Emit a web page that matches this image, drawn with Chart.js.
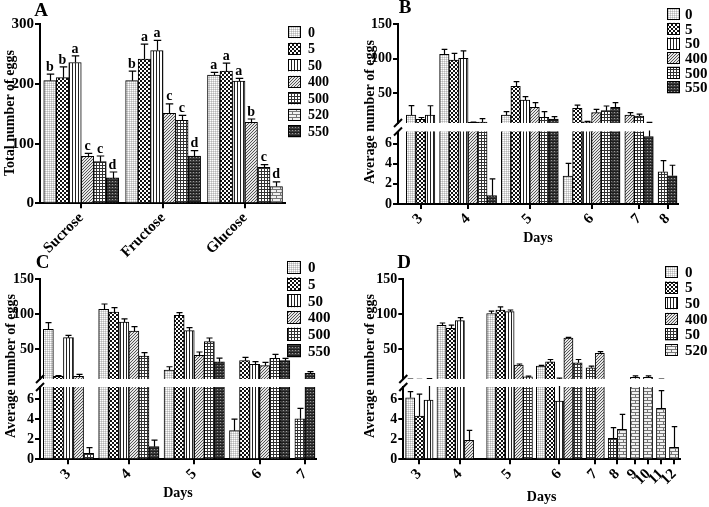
<!DOCTYPE html>
<html><head><meta charset="utf-8">
<script src="https://cdn.jsdelivr.net/npm/chart.js@4.4.0/dist/chart.umd.min.js"></script>
<style>
html,body{margin:0;padding:0;background:#fff;}
#wrap{position:relative;width:709px;height:507px;overflow:hidden;background:#fff;}
canvas{position:absolute;}
</style>
</head><body>
<div id="wrap">
<canvas id="cA" width="355" height="262" style="left:0;top:0"></canvas>
<canvas id="cBt" width="354" height="250" style="left:355px;top:0"></canvas>
<canvas id="cBb" width="354" height="250" style="left:355px;top:0"></canvas>
<canvas id="cCt" width="355" height="257" style="left:0;top:250px"></canvas>
<canvas id="cCb" width="355" height="257" style="left:0;top:250px"></canvas>
<canvas id="cDt" width="354" height="257" style="left:355px;top:250px"></canvas>
<canvas id="cDb" width="354" height="257" style="left:355px;top:250px"></canvas>
</div>
<script>
// ---------------- DATA ----------------
// Panel A: total number of eggs per sugar
const sugars = ['Sucrose', 'Fructose', 'Glucose'];
const seriesA = ['0', '5', '50', '400', '500', '520', '550'];
const valuesA = [
  [205.6, 205.6, 215],
  [210.6, 241.9, 221.8],
  [236, 255.9, 205],
  [78.8, 150.8, 135.8],
  [69.8, 139, 60.3],
  [null, null, 28],
  [42.5, 79.3, null]
];
const errorsA = [
  [11, 16, 4.5],
  [18, 25, 13],
  [11, 17, 4.5],
  [5, 16, 5.5],
  [9.5, 8.5, 4.5],
  [null, null, 8],
  [10, 9, null]
];
const lettersA = [
  ['b', 'b', 'a'],
  ['b', 'a', 'a'],
  ['a', 'a', 'a'],
  ['c', 'c', 'b'],
  ['c', 'c', 'c'],
  [null, null, 'd'],
  ['d', 'd', null]
];
const ticksA = [0, 100, 200, 300];

// Panel B
const daysB = ['3', '4', '5', '6', '7', '8'];
const seriesB = ['0', '5', '50', '400', '500', '550'];
const valuesB = [
  [18.6, 106.5, 18.6, 2.78, null, null],
  [12.3, 98.3, 60, 28.3, null, null],
  [18.6, 100.7, 40.3, 8.8, null, null],
  [null, 8, 29.7, 22, 18.6, null],
  [null, 8.5, 15.2, 24.9, 17.1, 3.2],
  [null, 0.83, 12.8, 29.7, 6.7, 2.8]
];
const errorsB = [
  [13.5, 7.3, 4.8, 1.26, null, null],
  [2.7, 9.7, 7, 4.7, null, null],
  [13.4, 10.7, 4.9, 0.5, null, null],
  [null, 0.3, 6.8, 4.8, 3.4, null],
  [null, 4.8, 8.2, 6.7, 2.9, 1.1],
  [null, 1.67, 3.4, 6.8, 1.3, 1.05]
];

// Panel C
const daysC = ['3', '4', '5', '6', '7'];
const seriesC = ['0', '5', '50', '400', '500', '550'];
const valuesC = [
  [78.2, 106.9, 19.9, 2.85, null],
  [11, 103.1, 98.3, 33.3, null],
  [66.3, 88.8, 76.3, 28, null],
  [11, 75.8, 40.9, 26.1, null],
  [0.6, 40, 60.5, 36.6, 4.04],
  [null, 1.26, 31.8, 33.3, 15.1]
];
const errorsC = [
  [9.6, 7.7, 4.7, 1.15, null],
  [1, 6.2, 3.9, 4.7, null],
  [3.3, 4.3, 4.3, 3.8, null],
  [2.5, 6.2, 4.8, 4.8, null],
  [0.56, 4.7, 5.3, 5.7, 1.03],
  [null, 0.64, 5.2, 3.3, 2.4]
];

// Panel D
const daysD = ['3', '4', '5', '6', '7', '8', '9', '10', '11', '12'];
const seriesD = ['0', '5', '50', '400', '50', '520'];
const valuesD = [
  [6.13, 84, 101, 25.6, null, null, null, null, null, null],
  [4.3, 79.7, 106, 31.8, null, null, null, null, null, null],
  [5.9, 90.7, 103.6, 5.8, null, null, null, null, null, null],
  [null, 1.89, 27, 65.6, 43.8, null, null, null, null, null],
  [null, 0, 10, 30.3, 23.2, 2.09, null, null, null, null],
  [null, null, null, null, null, 2.98, 9.4, 9.4, 5.07, 1.19]
];
const errorsD = [
  [0.6, 3.3, 3.4, 1, null, null, null, null, null, null],
  [2.2, 4.7, 4.5, 3.2, null, null, null, null, null, null],
  [1.6, 4.3, 2.4, 2.5, null, null, null, null, null, null],
  [null, 1.0, 1.5, 1, 2.4, null, null, null, null, null],
  [null, 0, 1, 4.7, 2.4, 1.06, null, null, null, null],
  [null, null, null, null, null, 1.49, 2, 2, 1.76, 2.06]
];
const orderD = {4: [4, 3]};   // day 7: series drawn in this order

const upperTicks = [50, 100, 150];
const lowerTicks = [0, 2, 4, 6];

// ---------------- STYLE ----------------
const SERIF = "'Liberation Serif','Times New Roman',serif";
Chart.defaults.font.family = SERIF;
Chart.defaults.font.weight = 'bold';
Chart.defaults.color = '#000';

function mk(w, h, fn) {
  const c = document.createElement('canvas'); c.width = w; c.height = h;
  const g = c.getContext('2d'); fn(g); return g.createPattern(c, 'repeat');
}
const PAT = {
  dots: mk(2, 2, g => { g.fillStyle = '#d6d6d6'; g.fillRect(0, 0, 2, 2); g.fillStyle = '#fff'; g.fillRect(0, 0, 1, 1); g.fillStyle = '#b5b5b5'; g.fillRect(1, 1, 1, 1); }),
  checker: mk(4, 4, g => { g.fillStyle = '#fff'; g.fillRect(0, 0, 4, 4); g.fillStyle = '#111'; g.fillRect(0, 0, 2, 2); g.fillRect(2, 2, 2, 2); }),
  vlines: mk(3, 1, g => { g.fillStyle = '#fff'; g.fillRect(0, 0, 3, 1); g.fillStyle = '#222'; g.fillRect(0, 0, 1, 1); }),
  diag: mk(3, 3, g => { g.fillStyle = '#e6e6e6'; g.fillRect(0, 0, 3, 3); g.fillStyle = '#555'; g.fillRect(0, 2, 1, 1); g.fillRect(1, 1, 1, 1); g.fillRect(2, 0, 1, 1); }),
  grid: mk(3, 3, g => { g.fillStyle = '#fff'; g.fillRect(0, 0, 3, 3); g.fillStyle = '#333'; g.fillRect(0, 0, 3, 1); g.fillRect(0, 0, 1, 3); }),
  brick: mk(8, 6, g => { g.fillStyle = '#f2f2f2'; g.fillRect(0, 0, 8, 6); g.fillStyle = '#777'; g.fillRect(0, 0, 8, 1); g.fillRect(0, 3, 8, 1); g.fillRect(0, 1, 1, 2); g.fillRect(4, 4, 1, 2); }),
  dark: mk(3, 3, g => { g.fillStyle = '#3c3c3c'; g.fillRect(0, 0, 3, 3); g.fillStyle = '#9a9a9a'; g.fillRect(1, 1, 1, 1); g.fillStyle = '#1e1e1e'; g.fillRect(0, 0, 3, 1); })
};

// ---------------- PLUGINS ----------------
const errPlugin = {
  id: 'errbars',
  afterDatasetsDraw(chart, args, o) {
    const {ctx, chartArea: a} = chart; const ys = chart.scales.y;
    const marks = [];
    ctx.save();
    ctx.beginPath(); ctx.rect(a.left, a.top - 1, a.right - a.left, a.bottom - a.top + 1); ctx.clip();
    ctx.strokeStyle = '#000'; ctx.lineWidth = 1.2;
    chart.data.datasets.forEach((ds, di) => {
      const meta = chart.getDatasetMeta(di);
      meta.data.forEach((el, j) => {
        const r = ds.data[j];
        const yt = ys.getPixelForValue(r.y), ye = ys.getPixelForValue(r.y + (r.err || 0));
        if (r.letter) marks.push({x: el.x, y: ye, t: r.letter});
        if (!r.err) return;
        const half = el.width * 0.3, x = Math.round(el.x) + 0.5;
        ctx.beginPath(); ctx.moveTo(x, yt); ctx.lineTo(x, ye);
        ctx.moveTo(x - half, ye); ctx.lineTo(x + half, ye); ctx.stroke();
      });
    });
    ctx.restore();
    if (o && o.letterFont) {
      ctx.save(); ctx.font = o.letterFont; ctx.fillStyle = '#000';
      ctx.textAlign = 'center'; ctx.textBaseline = 'bottom';
      marks.forEach(m => ctx.fillText(m.t, m.x, m.y));
      ctx.restore();
    }
  }
};
const textPlugin = {
  id: 'texts',
  afterDraw(chart, args, o) {
    const ctx = chart.ctx;
    ((o && o.items) || []).forEach(t => {
      ctx.save(); ctx.translate(t.x, t.y); ctx.rotate((t.rot || 0) * Math.PI / 180);
      ctx.font = t.font; ctx.fillStyle = '#000'; ctx.textAlign = 'center'; ctx.textBaseline = 'middle';
      ctx.fillText(t.text, 0, 0); ctx.restore();
    });
  }
};
const legendPlugin = {
  id: 'patLegend',
  afterDraw(chart, args, o) {
    if (!o || !o.labels) return;
    const ctx = chart.ctx; ctx.save();
    o.labels.forEach((lab, i) => {
      const cy = o.y + i * o.step;
      ctx.fillStyle = PAT[o.patterns[i]];
      ctx.fillRect(o.x, cy - o.bh / 2, o.bw, o.bh);
      ctx.strokeStyle = '#000'; ctx.lineWidth = 1;
      ctx.strokeRect(o.x + 0.5, Math.round(cy - o.bh / 2) + 0.5, o.bw - 1, o.bh - 1);
      ctx.fillStyle = '#000'; ctx.font = o.font; ctx.textAlign = 'left'; ctx.textBaseline = 'middle';
      ctx.fillText(lab, o.tx, cy + 1);
    });
    ctx.restore();
  }
};
const brkPlugin = {
  id: 'brk',
  afterDraw(chart, args, o) {
    if (!o || !o.edge) return;
    const {ctx, chartArea: a} = chart;
    const yy = o.edge === 'top' ? a.top : a.bottom;
    ctx.save(); ctx.strokeStyle = '#000'; ctx.lineWidth = 2;
    ctx.beginPath(); ctx.moveTo(a.left - 4, yy + 4); ctx.lineTo(a.left + 4, yy - 4); ctx.stroke();
    ctx.restore();
  }
};

// ---------------- LAYOUT (bar slots derived from data) ----------------
function slots(values, lead, gap, trail, order) {
  const nG = values[0].length, pos = values.map(() => []), centers = [];
  let x = lead;
  for (let g = 0; g < nG; g++) {
    const ord = (order && order[g]) ? order[g] : values.map((v, i) => i).filter(i => values[i][g] !== null);
    const start = x;
    ord.forEach(i => { pos[i][g] = x + 0.5; x += 1; });
    centers.push((start + x) / 2);
    x += gap;
  }
  return {pos, centers, max: x - gap + trail};
}

function datasetsFor(p, L) {
  return p.series.map((name, i) => ({
    label: name,
    data: p.values[i].map((v, g) => (v === null || v === 0) ? null :
      {x: L.pos[i][g], y: v, err: p.errors[i][g], letter: p.letters ? p.letters[i][g] : null}).filter(d => d),
    backgroundColor: PAT[p.patterns[i]], borderColor: '#000', borderWidth: 1,
    grouped: false, categoryPercentage: 1, barPercentage: 1
  }));
}

function axisChart(id, p, L, part) {
  const cv = document.getElementById(id); const W = cv.width, H = cv.height;
  const showX = !!part.showX;
  return new Chart(cv, {
    type: 'bar',
    data: {datasets: datasetsFor(p, L)},
    options: {
      responsive: false, animation: false, devicePixelRatio: 1,
      layout: {padding: {left: 0, right: W - p.right, top: part.top, bottom: showX ? 0 : H - part.bottom}},
      plugins: {
        legend: {display: false}, tooltip: {enabled: false},
        errbars: {letterFont: p.letters ? 'bold 14px ' + SERIF : null},
        texts: {items: part.texts || []},
        patLegend: part.legend || {},
        brk: {edge: part.brk}
      },
      scales: {
        x: {
          type: 'linear', min: 0, max: L.max, display: showX, offset: false,
          afterFit: s => { if (showX) s.height = H - part.bottom; },
          afterBuildTicks: s => { s.ticks = L.centers.map(v => ({value: v})); },
          ticks: {autoSkip: false, minRotation: 45, maxRotation: 45, padding: 1,
                  font: {size: p.xFont, weight: 'bold'}, color: '#000', callback: (v, i) => p.groups[i]},
          grid: {offset: false, drawOnChartArea: false, tickLength: 5, lineWidth: 2, color: '#000'},
          border: {color: '#000', width: 2},
          title: {display: !!p.xTitle, text: p.xTitle, color: '#000', font: {size: 14, weight: 'bold'},
                  padding: {top: 0, bottom: p.xTitlePad || 0}}
        },
        y: {
          type: 'linear', min: part.min, max: part.max,
          afterFit: s => { s.width = p.left; },
          afterBuildTicks: s => { s.ticks = part.ticks.map(v => ({value: v})); },
          ticks: {padding: 1, font: {size: p.yFont, weight: 'bold'}, color: '#000'},
          grid: {drawOnChartArea: false, tickLength: 5, lineWidth: 2, color: '#000'},
          border: {color: '#000', width: 2}
        }
      }
    },
    plugins: [errPlugin, textPlugin, legendPlugin, brkPlugin]
  });
}

// ---------------- PANELS ----------------
const F = s => 'bold ' + s + 'px ' + SERIF;

// A
const pA = {series: seriesA, groups: sugars, values: valuesA, errors: errorsA, letters: lettersA,
  patterns: ['dots', 'checker', 'vlines', 'diag', 'grid', 'brick', 'dark'],
  left: 40, right: 285, xFont: 15, yFont: 15};
const LA = slots(valuesA, 0.3, 0.55, 0.2);
axisChart('cA', pA, LA, {top: 24.3, bottom: 203.3, min: 0, max: 300, ticks: ticksA, showX: true,
  texts: [{text: 'A', x: 41, y: 11, font: F(19)}, {text: 'Total number of eggs', x: 10, y: 113, rot: -90, font: F(14)}],
  legend: {labels: seriesA, patterns: pA.patterns, x: 288, tx: 308, y: 32.3, step: 16.5, bw: 13, bh: 12, font: F(14)}});

// B
const pB = {series: seriesB, groups: daysB, values: valuesB, errors: errorsB,
  patterns: ['dots', 'checker', 'vlines', 'diag', 'grid', 'dark'],
  left: 43, right: 323, xFont: 15, yFont: 14, xTitle: 'Days', xTitlePad: 3.5};
const LB = slots(valuesB, 0.88, 0.5, 0.1);
axisChart('cBt', pB, LB, {top: 24.3, bottom: 123, min: 7, max: 150, ticks: upperTicks, brk: 'bottom'});
axisChart('cBb', pB, LB, {top: 131.5, bottom: 204, min: 0, max: 7.2, ticks: lowerTicks, brk: 'top', showX: true,
  texts: [{text: 'B', x: 50, y: 8, font: F(19)}, {text: 'Average number of eggs', x: 15, y: 112, rot: -90, font: F(14)}],
  legend: {labels: seriesB, patterns: pB.patterns, x: 312, tx: 330, y: 14.3, step: 14.6, bw: 13, bh: 12, font: F(15)}});

// C
const pC = {series: seriesC, groups: daysC, values: valuesC, errors: errorsC,
  patterns: ['dots', 'checker', 'vlines', 'diag', 'grid', 'dark'],
  left: 40, right: 316, xFont: 15, yFont: 14, xTitle: 'Days', xTitlePad: 5.5};
const LC = slots(valuesC, 0.33, 0.5, 0.1);
axisChart('cCt', pC, LC, {top: 29.3, bottom: 129, min: 7, max: 150, ticks: upperTicks, brk: 'bottom'});
axisChart('cCb', pC, LC, {top: 137, bottom: 209.3, min: 0, max: 7.2, ticks: lowerTicks, brk: 'top', showX: true,
  texts: [{text: 'C', x: 42.5, y: 13, font: F(19)}, {text: 'Average number of eggs', x: 11, y: 116, rot: -90, font: F(14)}],
  legend: {labels: seriesC, patterns: pC.patterns, x: 287, tx: 308, y: 17.3, step: 16.7, bw: 14, bh: 13, font: F(15)}});

// D
const pD = {series: seriesD, groups: daysD, values: valuesD, errors: errorsD,
  patterns: ['dots', 'checker', 'vlines', 'diag', 'grid', 'brick'],
  left: 48.3, right: 325, xFont: 15, yFont: 14, xTitle: 'Days', xTitlePad: 1};
const LD = slots(valuesD, 0.25, 0.42, 0.15, orderD);
axisChart('cDt', pD, LD, {top: 29.3, bottom: 129, min: 7, max: 150, ticks: upperTicks, brk: 'bottom'});
axisChart('cDb', pD, LD, {top: 137, bottom: 209.3, min: 0, max: 7.2, ticks: lowerTicks, brk: 'top', showX: true,
  texts: [{text: 'D', x: 49, y: 13, font: F(19)}, {text: 'Average number of eggs', x: 15, y: 116, rot: -90, font: F(14)}],
  legend: {labels: seriesD, patterns: pD.patterns, x: 310, tx: 330, y: 22, step: 15.6, bw: 13, bh: 12, font: F(15)}});
</script>
</body></html>
